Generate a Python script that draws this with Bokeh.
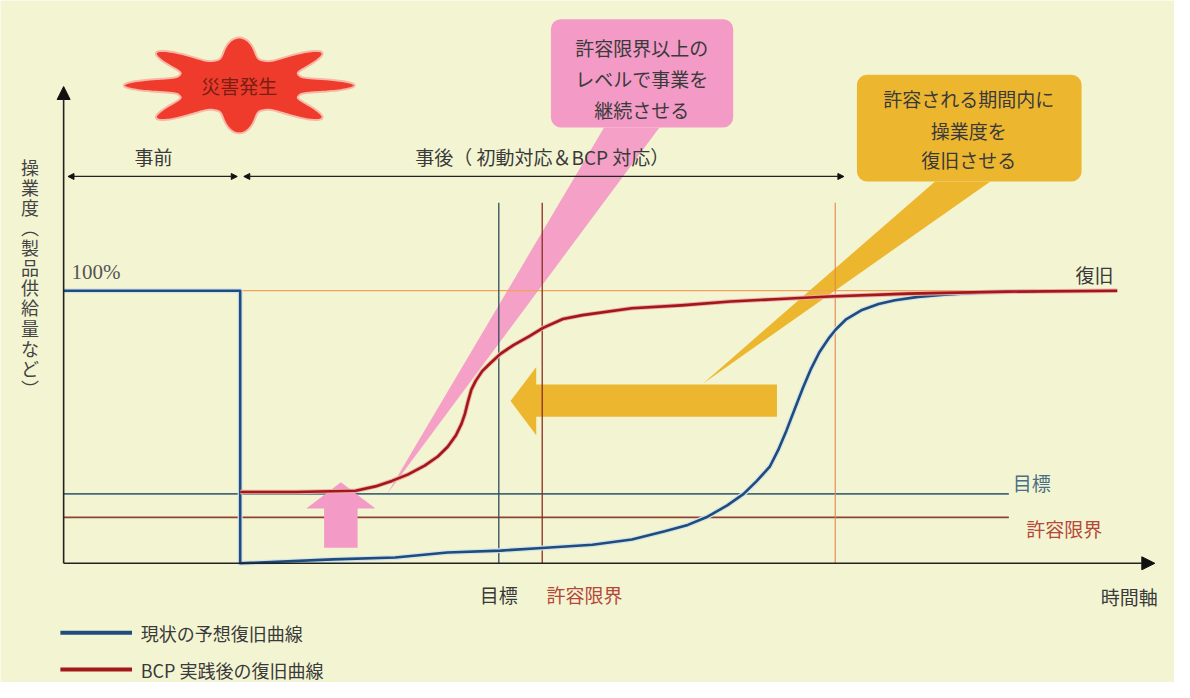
import numpy as np
from bokeh.plotting import figure
from bokeh.models import Range1d, Arrow, NormalHead
from bokeh.core.properties import value
from bokeh.embed import file_html
from bokeh.resources import INLINE

# ---------------- data (conceptual units: time 0..100, level in %) ----------------
disaster_time = 16.27
target_time = 40.1
tolerance_time = 44.1
allowed_time = 71.1
full_level = 100.0
target_level = 25.45
tolerance_level = 16.85

# current expected recovery curve (blue)
blue_time = [0, 16.27, 16.27, 24.82, 30.55, 35.36, 40.27, 44.45, 48.73, 52.36, 55.39,
             57.52, 59.34, 61.15, 62.66, 63.88, 65.09, 65.85, 66.61, 67.36, 68.12,
             68.88, 69.64, 70.55, 71.15, 72.06, 73.57, 75.09, 76.61, 78.73, 81.15,
             85.09, 89.64]
blue_level = [100, 100, 0, 1.43, 2.15, 3.94, 4.66, 5.73, 6.81, 8.71, 11.72,
              14.09, 17.1, 21.25, 25.45, 30.22, 35.59, 41.58, 48.75, 56.52, 64.27,
              71.43, 77.42, 82.8, 85.77, 89.35, 92.94, 95.09, 96.52, 97.74, 98.57,
              99.46, 99.82]

# recovery curve after BCP (red)
red_time = [16.27, 21.45, 26.91, 28.73, 30.25, 31.75, 33.27, 34.48, 35.39, 36.15,
            36.66, 36.97, 37.27, 37.57, 37.97, 38.57, 39.34, 40.25, 41.45, 42.97,
            44.18, 46.0, 47.82, 52.36, 56.91, 61.45, 66.0, 70.55, 77.82, 86.91, 97.09]
red_level = [26.16, 26.16, 26.63, 28.21, 30.22, 32.62, 35.84, 39.18, 42.76, 46.95,
             51.15, 54.73, 59.5, 63.69, 66.92, 70.5, 73.48, 76.81, 80.04, 83.4,
             86.38, 89.61, 91.04, 93.55, 94.62, 96.06, 96.95, 97.85, 98.92, 99.64, 100]

series_names = ["現状の予想復旧曲線", "BCP 実践後の復旧曲線"]
y_label = "操業度（製品供給量など）"

# ---------------- styles ----------------
BG = "#F3F5D2"
BLUE = "#1E4C7C"
RED = "#A3161A"
JP = value("Noto Sans CJK JP")
TXT = "#3A3A3A"
FS = "19px"

# layout: time 0 at 64/1190 of the width, 11 px per unit; level 0 at 576/698, 2.79 px per %
X0, PXX = 64.0, 11.0
Y0, PXY = 576.0, 2.79
REF_W, REF_H = 1190, 698
W, H = 1174, 682

p = figure(width=W, height=H, output_backend="svg", toolbar_location=None,
           x_range=Range1d(-X0 / PXX, (REF_W - X0) / PXX),
           y_range=Range1d((Y0 - REF_H) / PXY, Y0 / PXY),
           min_border=0, outline_line_color=None,
           background_fill_color=BG, border_fill_color=BG,
           x_axis_location=None, y_axis_location=None)
p.grid.visible = False

PINK = "#F39BC6"
YEL = "#EDB62F"
# ---------------- callout pointers and yellow arrow (under the lines) ----------------
p.patch([49.8, 54.9, 29.8], [159.9, 159.9, 25.4], fill_color=PINK, line_color=None, fill_alpha=0.95)
p.patch([80.3, 85.4, 58.9], [140.1, 140.1, 65.9], fill_color=YEL, line_color=None)
p.patch([41.18, 43.55, 43.55, 65.73, 65.73, 43.55, 43.55],
        [59.5, 72.04, 65.59, 65.59, 53.76, 53.76, 46.95], fill_color=YEL, line_color=None)

# ---------------- reference lines ----------------
line_end = 87.1
p.segment(x0=[0], y0=[full_level], x1=[96.9], y1=[full_level], line_color="#F2A25E", line_width=1.3)
p.segment(x0=[0], y0=[target_level], x1=[line_end], y1=[target_level], line_color="#47697A", line_width=1.6)
p.segment(x0=[0], y0=[tolerance_level], x1=[line_end], y1=[tolerance_level], line_color="#8E4230", line_width=1.6)

v_top = 132.3
p.segment(x0=[target_time], y0=[0], x1=[target_time], y1=[v_top], line_color="#2F4D5E", line_width=1.3)
p.segment(x0=[tolerance_time], y0=[0], x1=[tolerance_time], y1=[v_top], line_color="#8A2E22", line_width=1.3)
p.segment(x0=[allowed_time], y0=[0], x1=[allowed_time], y1=[v_top], line_color="#E0894A", line_width=1.1)

# pink upward arrow
p.patch([24.0, 24.0, 22.36, 25.55, 28.73, 27.09, 27.09],
        [5.73, 20.07, 20.07, 29.75, 20.07, 20.07, 5.73], fill_color=PINK, line_color=None)

# ---------------- curves ----------------
p.line(blue_time, blue_level, line_color="#D5E3E6", line_width=5, line_join="round")
p.line(blue_time, blue_level, line_color=BLUE, line_width=2.6, line_join="round")
p.line(red_time, red_level, line_color="#E9B0A8", line_width=4.5, line_join="round")
p.line(red_time, red_level, line_color=RED, line_width=2.6, line_join="round")

# ---------------- axes as arrows ----------------
p.add_layout(Arrow(end=NormalHead(size=13, fill_color="#111", line_color="#111"),
                   x_start=0, y_start=0, x_end=0, y_end=174.9, line_color="#222", line_width=1.6))
p.add_layout(Arrow(end=NormalHead(size=13, fill_color="#111", line_color="#111"),
                   x_start=0, y_start=0, x_end=100.55, y_end=0, line_color="#222", line_width=1.6))

# period arrows
arr_y = 141.9
for xs, xe in [(0.4, 16.0), (16.6, 71.9)]:
    p.add_layout(Arrow(start=NormalHead(size=6, fill_color="#111", line_color="#111"),
                       end=NormalHead(size=6, fill_color="#111", line_color="#111"),
                       x_start=xs, y_start=arr_y, x_end=xe, y_end=arr_y,
                       line_color="#222", line_width=1.3))

# ---------------- callout boxes ----------------
p.quad(left=[44.9], right=[61.7], bottom=[159.9], top=[199.6], fill_color=PINK,
       line_color=None, border_radius=10)
p.quad(left=[73.1], right=[93.8], bottom=[140.1], top=[179.2], fill_color=YEL,
       line_color=None, border_radius=10)

# starburst
th = np.linspace(0, 2 * np.pi, 721)
rr = 0.56 + 0.44 * ((1 + np.cos(8 * th)) / 2) ** 1.6
sx = 16.18 + 10.64 * rr * np.cos(th)
sy = 175.3 + 17.56 * rr * np.sin(th)
p.patch(list(sx), list(sy), fill_color="#EF3B2C", line_color="#F7B9A6", line_width=2)

# ---------------- texts ----------------
def txt(x, y, s, size=FS, color=TXT, align="center", font=JP, baseline="middle"):
    p.text(x=[x], y=[y], text=[s], text_font=font, text_font_size=value(size),
           text_color=color, text_align=align, text_baseline=baseline)

txt(16.18, 175.3, "災害発生", color="#7A1E14")
txt(8.27, 149.1, "事前")
txt(44.1, 149.1, "事後（ 初動対応＆BCP 対応）")
for yy, s in zip([189.2, 177.8, 166.3], ["許容限界以上の", "レベルで事業を", "継続させる"]):
    txt(53.27, yy, s)
for yy, s in zip([170.6, 158.8, 148.0], ["許容される期間内に", "操業度を", "復旧させる"]):
    txt(83.4, yy, s)

txt(0.73, 106.8, "100%", size="21px", color="#555", align="left", font=value("Liberation Serif"))
txt(95.0, 106.1, "復旧")
txt(89.2, 29.75, "目標", color="#4A6E85")
txt(92.2, 12.9, "許容限界", color="#B5483A")
txt(target_time, -11.47, "目標")
txt(44.5, -11.47, "許容限界", color="#B5483A", align="left")
txt(98.2, -12.2, "時間軸")

# vertical y label (upright characters)
vchars = list(y_label.replace("（", "︵").replace("）", "︶"))
for i, ch in enumerate(vchars):
    txt(-3.09, (Y0 - (170 + i * 20.6)) / PXY, ch, size="18px", color="#444")

# legend
for yy, col, name in zip([-25.45, -39.0], [BLUE, RED], series_names):
    p.segment(x0=[-0.3], y0=[yy], x1=[6.3], y1=[yy], line_color=col, line_width=4)
    txt(7.1, yy, name, size="18px", align="left")

open("out.html", "w").write(file_html(p, INLINE))
